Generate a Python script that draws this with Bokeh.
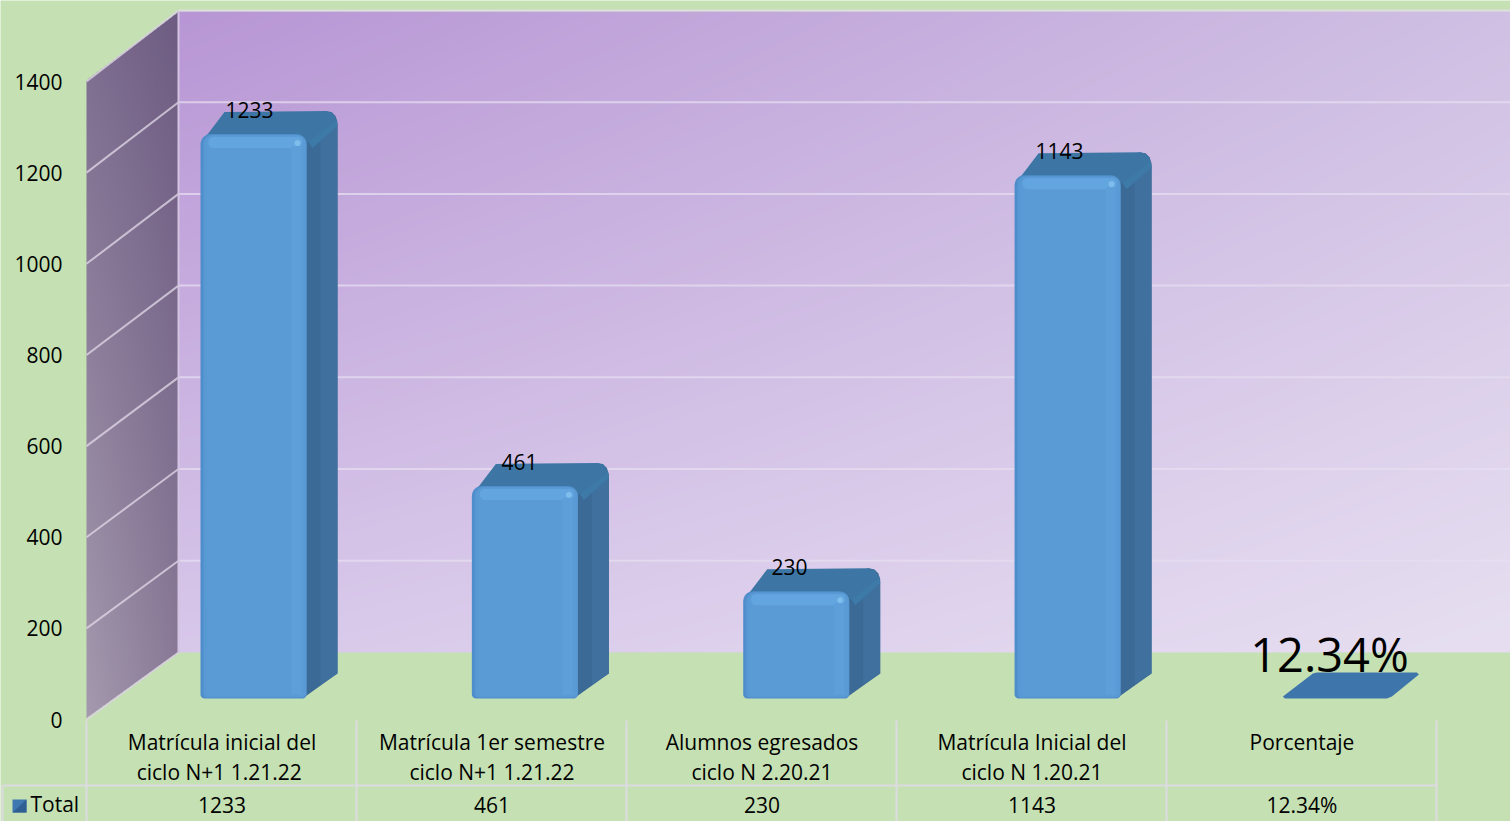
import numpy as np
from bokeh.embed import file_html
from bokeh.resources import INLINE
from bokeh.plotting import figure
from bokeh.models import LinearAxis, FixedTicker
from bokeh.core.properties import value

categories = ["Matrícula inicial del\nciclo  N+1 1.21.22", "Matrícula 1er semestre\nciclo N+1 1.21.22",
              "Alumnos egresados\nciclo N 2.20.21", "Matrícula Inicial del\nciclo N 1.20.21", "Porcentaje"]
series_values = [1233, 461, 230, 1143, 12.34]
value_labels = ["1233", "461", "230", "1143", "12.34%"]
y_ticks = [0, 200, 400, 600, 800, 1000, 1200, 1400]
series_name = "Total"

FONT = "Open Sans"
FS = "21px"
GREEN = "#c5e0b3"
X0, CAT, Y0, SCALE = 221.5, 270.0, 719.0, 0.4557
BACK_SCALE = 0.4586
BASE_PX = 698.0
def X(px): return (np.asarray(px, dtype=float) - X0) / CAT
def Y(py): return (Y0 - np.asarray(py, dtype=float)) / SCALE

p = figure(width=1510, height=821, output_backend="svg", toolbar_location=None,
           x_range=(float(X(0)), float(X(1510))), y_range=(float(Y(821)), float(Y(0))),
           min_border=0, min_border_left=0, min_border_right=0, min_border_top=0, min_border_bottom=0,
           background_fill_color=GREEN, border_fill_color=GREEN, outline_line_color=None)
p.grid.visible = False

# back wall gradient
H, W = 321, 666
u, v_ = np.meshgrid(np.linspace(0, 1, W), np.linspace(1, 0, H))
c00, c10 = np.array([184, 150, 213.]), np.array([208, 192, 228.])
c01, c11 = np.array([216, 200, 234.]), np.array([231, 223, 241.])
col = ((1-u)*(1-v_))[..., None]*c00 + (u*(1-v_))[..., None]*c10 + ((1-u)*v_)[..., None]*c01 + (u*v_)[..., None]*c11
img = np.zeros((H, W), dtype=np.uint32)
view = img.view(dtype=np.uint8).reshape((H, W, 4))
view[..., :3] = col.astype(np.uint8)
view[..., 3] = 255
p.image_rgba(image=[img], x=float(X(178)), y=float(Y(652)), dw=float(X(1510)-X(178)), dh=float(Y(11)-Y(652)))

# side wall gradient
H2, W2 = 707, 92
xx, yy = np.meshgrid(np.arange(W2) + .5, np.arange(H2) + 11.5)
t = xx / W2
top = 80 - 69*t
bot = 718 - 66*t
f = np.clip((yy - top) / (bot - top), 0, 1)
c_tl, c_tr = np.array([128, 112, 146.]), np.array([110, 92, 130.])
c_bl, c_br = np.array([164, 154, 174.]), np.array([136, 120, 150.])
col2 = ((1-t)*(1-f))[..., None]*c_tl + (t*(1-f))[..., None]*c_tr + ((1-t)*f)[..., None]*c_bl + (t*f)[..., None]*c_br
img2 = np.zeros((H2, W2), dtype=np.uint32)
view2 = img2.view(dtype=np.uint8).reshape((H2, W2, 4))
view2[..., :3] = col2[::-1].astype(np.uint8)
view2[..., 3] = (((yy >= top) & (yy <= bot)) * 255)[::-1].astype(np.uint8)
p.image_rgba(image=[img2], x=float(X(86)), y=float(Y(718)), dw=float(X(178)-X(86)), dh=float(Y(11)-Y(718)))

# gridlines on both walls, derived from the ticks
back_py = [652 - t_*BACK_SCALE for t_ in y_ticks]
front_py = [719 - t_*SCALE for t_ in y_ticks]
p.multi_line(xs=[[float(X(86)), float(X(178))] for _ in y_ticks],
             ys=[[float(Y(a)), float(Y(b))] for a, b in zip(front_py, back_py)],
             line_color="#dcd4e4", line_width=2, line_alpha=0.8)
p.multi_line(xs=[[float(X(178)), float(X(1510))] for _ in y_ticks[1:]],
             ys=[[float(Y(b)), float(Y(b))] for b in back_py[1:]],
             line_color="#e6def0", line_width=2, line_alpha=0.75)
p.line(x=[float(X(178)), float(X(178))], y=[float(Y(11)), float(Y(652))], line_color="#d3c4e2", line_width=2)

# 3D bars
def rrect(x0, x1, y0, y1, rt, rb):
    a = np.linspace(0, np.pi/2, 6)
    xs = list(x0 + rt - rt*np.cos(a)) + list(x1 - rt + rt*np.sin(a)) + list(x1 - rb + rb*np.cos(a)) + list(x0 + rb - rb*np.sin(a))
    ys = list(y0 + rt - rt*np.sin(a)) + list(y0 + rt - rt*np.cos(a)) + list(y1 - rb + rb*np.sin(a)) + list(y1 - rb + rb*np.cos(a))
    return xs, ys

pxs, pys, cols = [], [], []
def add(xs, ys, c):
    pxs.append([float(k) for k in X(xs)])
    pys.append([float(k) for k in Y(ys)])
    cols.append(c)

for i, val in enumerate(series_values):
    cx = X0 + CAT*i*1.005 + 31.5
    l, r = cx - 53, cx + 53
    h = val*SCALE + 2.5
    if h < 20:
        add([l-3, l+27, l+31, r+25, r+27, r, r-5, l-1], [BASE_PX-2, BASE_PX-25, BASE_PX-26, BASE_PX-26, BASE_PX-24, BASE_PX-2, BASE_PX, BASE_PX], "#3e76ac")
        continue
    tp = BASE_PX - h
    add([r-4, r+31, r+31, r+29, r+25, r+18, r-3], [BASE_PX, BASE_PX-25, tp-12, tp-18, tp-22, tp-23, tp+3], "#3c6a96")
    add([r+14, r+31, r+31, r+14], [BASE_PX-14, BASE_PX-25, tp-10, tp+4], "#40709e")
    add([l+2, l+8, l+24, r+20, r+26, r+30, r+27, r+2], [tp+6, tp-1, tp-22, tp-23, tp-21, tp-14, tp-8, tp+8], "#3d76a5")
    add([r+2, r+27, r+30, r+31, r+6], [tp+8, tp-11, tp-15, tp-8, tp+14], "#3d7aa8")
    xs, ys = rrect(l, r, tp, BASE_PX, 10, 4)
    add(xs, ys, "#4f8ecb")
    xs, ys = rrect(l+3, r, tp+1, BASE_PX-1, 9, 4)
    add(xs, ys, "#5898d3")
    xs, ys = rrect(l+6, r-1, tp+2, BASE_PX-2, 7, 4)
    add(xs, ys, "#5b9bd5")
    xs, ys = rrect(l+8, r-4, tp+3, tp+14, 5, 5)
    add(xs, ys, "#62a5df")
    add([r-15, r-5, r-5, r-15], [tp+12, tp+12, BASE_PX-4, BASE_PX-4], "#5e9fda")
    xs, ys = rrect(r-12, r-6, tp+6, tp+12, 3, 3)
    add(xs, ys, "#7fbeec")

p.patches(xs=pxs, ys=pys, fill_color=cols, line_color=None)

# data labels
lab_x = [float(X(X0 + CAT*i + 27.5)) for i in range(len(series_values))]
lab_y = [float(Y(BASE_PX - v*SCALE - 26.5)) for v in series_values]
p.text(x=lab_x[:4], y=lab_y[:4], text=value_labels[:4], text_font=value(FONT), text_font_size=FS,
       text_align="center", text_baseline="middle", text_color="#000000")
p.text(x=lab_x[4:], y=[float(Y(653))], text=value_labels[4:], text_font=value(FONT), text_font_size="47px",
       text_align="center", text_baseline="middle", text_color="#000000")

# table grid
tab = "#dcdce0"
vx = [86 + CAT*i for i in range(6)]
p.multi_line(xs=[[float(X(q)), float(X(q))] for q in vx], ys=[[float(Y(720)), float(Y(821))] for _ in vx],
             line_color=tab, line_width=2)
p.line(x=[float(X(2)), float(X(1437))], y=[float(Y(785)), float(Y(785))], line_color=tab, line_width=2)
p.line(x=[float(X(2)), float(X(2))], y=[float(Y(785)), float(Y(821))], line_color=tab, line_width=2)

# legend key and series name in the table
p.quad(left=[float(X(12))], right=[float(X(26))], top=[float(Y(799))], bottom=[float(Y(812))],
       fill_color="#3f78b0", line_color=None)
p.patches(xs=[[float(k) for k in X([12, 26, 26])]], ys=[[float(k) for k in Y([812, 799, 812])]],
          fill_color="#2f5f92", line_color=None)
p.text(x=[float(X(30))], y=[float(Y(803))], text=[series_name], text_font=value(FONT), text_font_size=FS,
       text_align="left", text_baseline="middle", text_color="#000000")

# y axis
ya = p.yaxis[0]
ya.ticker = FixedTicker(ticks=y_ticks)
ya.fixed_location = float(X(86))
ya.axis_line_color = None
ya.major_tick_line_color = None
ya.minor_tick_line_color = None
ya.major_label_standoff = 18
ya.major_label_text_font = FONT
ya.major_label_text_font_size = FS
ya.major_label_text_color = "#000000"

# x axis: category row
ticks = list(range(len(categories)))
xa = p.xaxis[0]
xa.ticker = FixedTicker(ticks=ticks)
xa.major_label_overrides = dict(zip(ticks, categories))
xa.fixed_location = float(Y(721))
xa.axis_line_color = None
xa.major_tick_line_color = None
xa.minor_tick_line_color = None
xa.major_label_standoff = 0
xa.major_label_text_font = FONT
xa.major_label_text_font_size = FS
xa.major_label_text_color = "#000000"
xa.major_label_text_line_height = 1.1

# x axis: value row
xb = LinearAxis(ticker=FixedTicker(ticks=ticks), major_label_overrides=dict(zip(ticks, value_labels)),
                fixed_location=float(Y(784)), axis_line_color=None, major_tick_line_color=None,
                minor_tick_line_color=None, major_label_standoff=0, major_label_text_font=FONT,
                major_label_text_font_size=FS, major_label_text_color="#000000")
p.add_layout(xb, "below")

open("out.html", "w").write(file_html(p, INLINE))
